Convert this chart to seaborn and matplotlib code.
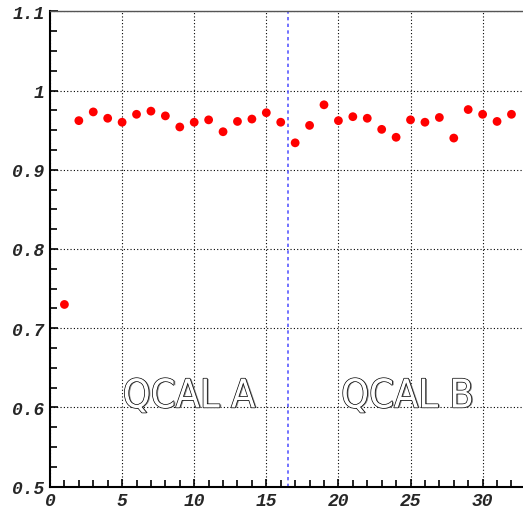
import matplotlib
matplotlib.use("Agg")
import matplotlib.pyplot as plt
import matplotlib.patheffects as pe
from matplotlib.ticker import MultipleLocator
import seaborn as sns
import pandas as pd

channels = list(range(1, 33))
values = [0.730, 0.962, 0.973, 0.965, 0.960, 0.970, 0.974, 0.968, 0.954, 0.960,
          0.963, 0.948, 0.961, 0.964, 0.972, 0.960, 0.934, 0.956, 0.982, 0.962,
          0.967, 0.965, 0.951, 0.941, 0.963, 0.960, 0.966, 0.940, 0.976, 0.970,
          0.961, 0.970]
divider = 16.5
labels = ["QCAL A", "QCAL B"]
label_x = [9.65, 24.8]
label_y = [0.6, 0.6]
xticks = [0, 5, 10, 15, 20, 25, 30]
yticks = [0.5, 0.6, 0.7, 0.8, 0.9, 1.0, 1.1]
ytick_labels = ["0.5", "0.6", "0.7", "0.8", "0.9", "1", "1.1"]

df = pd.DataFrame({"ch": channels, "val": values})

sns.set_style("white")
fig = plt.figure(figsize=(5.23, 5.10), dpi=100)
ax = fig.add_axes([50 / 523, 22.3 / 510, 1 - 50 / 523, (487.7 - 12.3) / 510])

ax.set_xlim(0, 32.8)
ax.set_ylim(0.5, 1.1)
ax.set_xticks(xticks)
ax.set_yticks(yticks)
ax.set_yticklabels(ytick_labels)
ax.xaxis.set_minor_locator(MultipleLocator(1))
ax.yaxis.set_minor_locator(MultipleLocator(0.025))
ax.grid(True, which="major", color="black", linestyle=(0, (1, 2)), linewidth=0.8)
ax.set_axisbelow(True)

ax.axvline(divider, color="#5a5aff", linestyle=(0, (2, 2)), linewidth=1.2, zorder=2)

sns.scatterplot(data=df, x="ch", y="val", ax=ax, color="#ff0000", s=40,
                edgecolor="none", zorder=3, legend=False)

for t, x, y in zip(labels, label_x, label_y):
    ax.text(x, y, t, fontsize=28.5, family="DejaVu Sans", fontstretch="condensed",
            color="white", ha="center", va="baseline", zorder=4,
            path_effects=[pe.withSimplePatchShadow(offset=(1.2, -0.3), shadow_rgbFace="#888888", alpha=1),
                          pe.withStroke(linewidth=1.0, foreground="black")])

ax.set_xlabel("")
ax.set_ylabel("")
for side in ["left", "bottom"]:
    ax.spines[side].set_color("black")
    ax.spines[side].set_linewidth(1.5)
ax.spines["right"].set_visible(False)
ax.spines["top"].set_color("#555555")
ax.spines["top"].set_linewidth(1.0)

ax.tick_params(which="both", direction="in", color="black", width=1.2)
ax.tick_params(which="major", length=6, pad=4)
ax.tick_params(which="minor", length=5)
ax.tick_params(axis="y", which="both", left=True, right=False)
ax.tick_params(axis="x", which="both", bottom=True, top=False)
for lab in ax.get_xticklabels() + ax.get_yticklabels():
    lab.set_family("Liberation Mono")
    lab.set_fontweight("bold")
    lab.set_fontstyle("italic")
    lab.set_fontsize(13)

fig.savefig("out.png", dpi=100)
